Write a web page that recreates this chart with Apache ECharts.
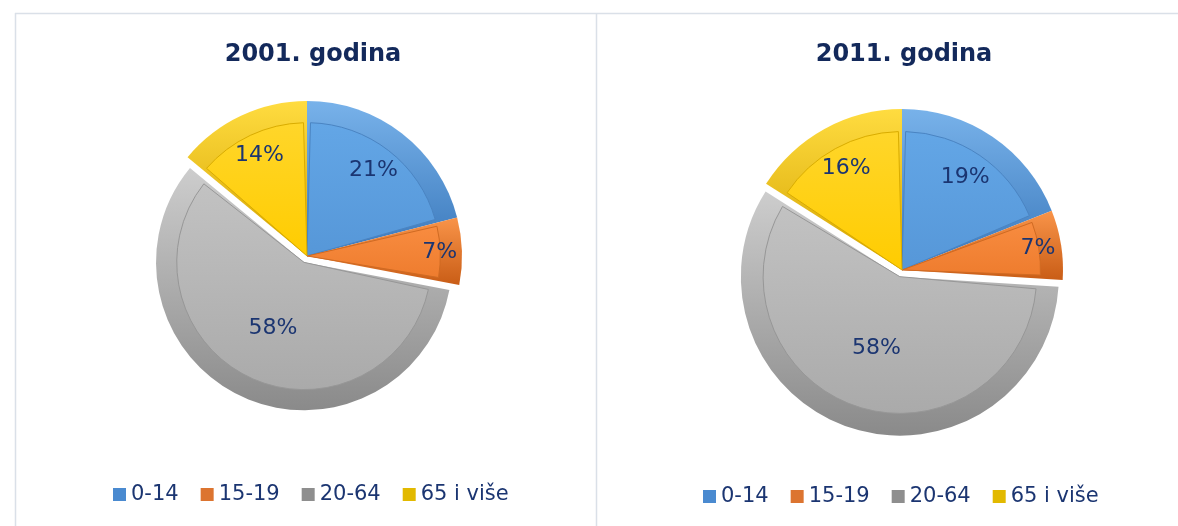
<!DOCTYPE html>
<html><head><meta charset="utf-8">
<script src="https://cdn.jsdelivr.net/npm/echarts@6/dist/echarts.min.js"></script>
<style>html,body{margin:0;padding:0;background:#fff}#c{width:1178px;height:526px}</style>
</head><body><div id="c"></div>
<script>
// ---- data ----
const categories = ['0-14', '15-19', '20-64', '65 i više'];
const values2001 = [21, 7, 58, 14];
const values2011 = [19, 7, 58, 16];
const titles = ['2001. godina', '2011. godina'];
const explodedCategory = '20-64';

// ---- styles ----
const rimTop = ['#78b2ea', '#f99449', '#cdcdcd', '#ffdc40'];
const rimBottom = ['#3a78bb', '#c95d16', '#8a8a8a', '#d4a300'];
const faceTop = ['#63a6e6', '#f88c40', '#c2c2c2', '#ffd62a'];
const faceBottom = ['#5697d8', '#ee7c2e', '#aaaaaa', '#ffcc00'];
const faceBorder = ['#4a84c2', '#d06a22', '#979797', '#d9ac00'];
const legendColors = ['#4a8ad0', '#dc7430', '#8e8e8e', '#e2b900'];
const labelRatio = [0.67, 0.82, 0.45, 0.69];
const navy = '#1b3571';

const pies = [
  { values: values2001, center: [307, 256], r: 155, rg: 148, off: 7 },
  { values: values2011, center: [902, 270], r: 161, rg: 159, off: 7 }
];

function grad(a, b) {
  return new echarts.graphic.LinearGradient(0, 0, 0, 1, [{offset: 0, color: a}, {offset: 1, color: b}]);
}

const series = [];
pies.forEach((p) => {
  [false, true].forEach((grayGroup) => {
    const R = grayGroup ? p.rg : p.r;
    const rf = R * 0.86;
    const vis = (n) => (n === explodedCategory) === grayGroup;
    const rimData = categories.map((n, i) => ({
      name: n, value: p.values[i], selected: grayGroup && n === explodedCategory,
      itemStyle: { color: vis(n) ? grad(rimTop[i], rimBottom[i]) : 'rgba(0,0,0,0)' }
    }));
    const faceData = categories.map((n, i) => ({
      name: n, value: p.values[i], selected: grayGroup && n === explodedCategory,
      itemStyle: vis(n)
        ? { color: grad(faceTop[i], faceBottom[i]), borderColor: faceBorder[i], borderWidth: 1 }
        : { color: 'rgba(0,0,0,0)', borderWidth: 0 },
      label: { show: vis(n) }
    }));
    series.push({
      type: 'pie', center: p.center, radius: R, startAngle: 90, clockwise: true,
      selectedMode: 'single', selectedOffset: p.off, silent: true, animation: false,
      label: { show: false }, labelLine: { show: false },
      emphasis: { disabled: true },
      data: rimData
    });
    series.push({
      type: 'pie', center: p.center, radius: rf, startAngle: 90, clockwise: true,
      padAngle: 3,
      selectedMode: 'single', selectedOffset: p.off, silent: true, animation: false,
      label: {
        position: 'inside', rotate: 0,
        formatter: (d) => d.value + '%',
        color: navy, fontSize: 22, fontFamily: 'DejaVu Sans', fontWeight: 'normal'
      },
      labelLine: { show: false },
      labelLayout: function (params) {
        const r = params.labelRect;
        const lx = r.x + r.width / 2, ly = r.y + r.height / 2;
        const vx = lx - p.center[0], vy = ly - p.center[1];
        const f = labelRatio[params.dataIndex] * p.r / (0.5 * rf);
        return { dx: vx * (f - 1), dy: vy * (f - 1) };
      },
      emphasis: { disabled: true },
      data: faceData
    });
  });
});

const legendData = categories.map((n, i) => ({ name: n, itemStyle: { color: legendColors[i] } }));
const legendText = { fontFamily: 'DejaVu Sans', fontSize: 21, color: navy };

const chart = echarts.init(document.getElementById('c'), null, { renderer: 'canvas' });
chart.setOption({
  animation: false,
  title: [
    { text: titles[0], left: 308, top: 38, textAlign: 'center',
      textStyle: { fontFamily: 'DejaVu Sans', fontWeight: 'bold', fontSize: 24, color: '#13295b' } },
    { text: titles[1], left: 899, top: 38, textAlign: 'center',
      textStyle: { fontFamily: 'DejaVu Sans', fontWeight: 'bold', fontSize: 24, color: '#13295b' } }
  ],
  legend: [
    { data: legendData, left: 108, top: 479, icon: 'rect', itemWidth: 13, itemHeight: 13, itemGap: 22,
      textStyle: legendText, selectedMode: false },
    { data: legendData, left: 698, top: 481, icon: 'rect', itemWidth: 13, itemHeight: 13, itemGap: 22,
      textStyle: legendText, selectedMode: false }
  ],
  graphic: [
    { type: 'line', shape: { x1: 15, y1: 13.5, x2: 1178, y2: 13.5 }, style: { stroke: '#dae0e8', lineWidth: 1.5 }, silent: true },
    { type: 'line', shape: { x1: 15.5, y1: 13, x2: 15.5, y2: 526 }, style: { stroke: '#dae0e8', lineWidth: 1.5 }, silent: true },
    { type: 'line', shape: { x1: 596.5, y1: 13, x2: 596.5, y2: 526 }, style: { stroke: '#dae0e8', lineWidth: 1.5 }, silent: true }
  ],
  series: series
});
</script>
</body></html>
